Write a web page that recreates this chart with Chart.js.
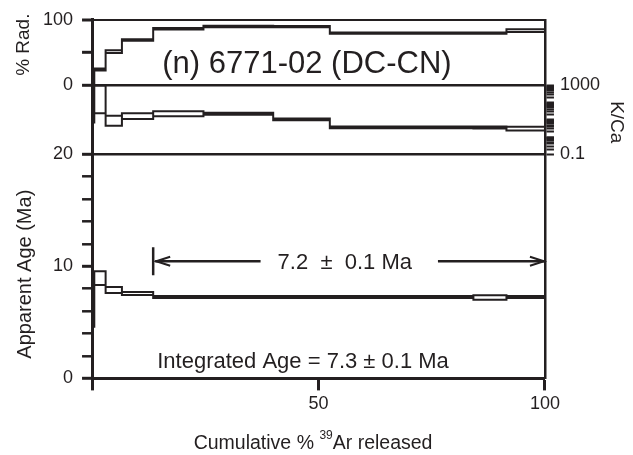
<!DOCTYPE html>
<html>
<head>
<meta charset="utf-8">
<title>6771-02 age spectrum</title>
<script src="https://cdn.jsdelivr.net/npm/chart.js@4"></script>
<style>
    html, body { margin: 0; padding: 0; background: #fff; }
    #spectrum { display: block; }
</style>
</head>
<body>
<canvas id="spectrum" width="633" height="455"></canvas>
<script>
// --- DATA ---
const sampleLabel = '(n) 6771-02 (DC-CN)';
// step boundaries, cumulative % 39Ar
const cumulative39Ar = [0, 0.5, 3.0, 6.6, 13.5, 24.6, 40.0, 52.5, 84.2, 91.5, 100];
// apparent age (Ma) and 2 sigma
const apparentAge = [6.91, 8.95, 7.89, 7.58, 7.27, 7.27, 7.27, 7.27, 7.22, 7.27];
const ageErr      = [2.3, 0.62, 0.27, 0.13, 0.09, 0.09, 0.09, 0.09, 0.2, 0.09];
// % radiogenic
const radiogenic = [2, 24.2, 51.5, 69.2, 86.4, 89.8, 89.6, 79.8, 79.8, 83.5];
const radErr     = [1, 1.5, 2, 1.2, 1.2, 1, 1, 1, 1, 2];
// K/Ca and 2 sigma
const kca    = [600, 500, 11, 17.5, 23.4, 23, 10.7, 3.7, 3.6, 3.2];
const kcaErr = [593, 476, 6.5, 6.4, 7.5, 3, 1.4, 0.45, 0.45, 0.8];

const plateauStart = 13.5;
const plateauEnd = 100;
const plateauText = '7.2  \u00b1  0.1 Ma';
const integratedText = 'Integrated Age = 7.3 \u00b1 0.1 Ma';

const xTicks = [0, 50, 100];
const ageTicks = [0, 2, 4, 6, 8, 10, 12, 14, 16, 18, 20];
const radTicks = [0, 50, 100];
const kcaTicks = [0.1, 0.2, 0.3, 0.4, 0.5, 0.6, 0.7, 0.8, 0.9,
                  1, 2, 3, 4, 5, 6, 7, 8, 9,
                  10, 20, 30, 40, 50, 60, 70, 80, 90,
                  100, 200, 300, 400, 500, 600, 700, 800, 900, 1000];

// --- PANEL GEOMETRY (in age-axis units) ---
const ink = '#231f20';
const family = '"Liberation Sans", Arial, Helvetica, sans-serif';
const AGE_TOP = 32;        // top of frame on the age axis
const RAD_BASE = 26.15;    // where 0 % Rad. / 1000 K/Ca sits
const RAD_MIN = -RAD_BASE / (AGE_TOP - RAD_BASE) * 100;
const DEC = 4 / (RAD_BASE - 20);          // K/Ca decades per age unit
const KCA_MIN = Math.pow(10, -1 - 20 * DEC);
const KCA_MAX = Math.pow(10, -1 + (AGE_TOP - 20) * DEC);

const radToAge = r => RAD_BASE + r / 100 * (AGE_TOP - RAD_BASE);
const near = (a, b) => Math.abs(a - b) < 1e-6;

// box outlines for a step spectrum: tops, bottoms and the verticals between steps
function stepOutline(lo, hi) {
    const pts = [];
    const n = lo.length;
    for (let i = 0; i < n; i++) {
        const x0 = cumulative39Ar[i], x1 = cumulative39Ar[i + 1];
        pts.push({ x: x0, y: hi[i] }, { x: x1, y: hi[i] }, { x: x1, y: null });
        pts.push({ x: x0, y: lo[i] }, { x: x1, y: lo[i] }, { x: x1, y: null });
    }
    for (let j = 0; j <= n; j++) {
        const a = Math.max(j - 1, 0), b = Math.min(j, n - 1);
        const x = cumulative39Ar[j];
        pts.push({ x: x, y: Math.min(lo[a], lo[b]) }, { x: x, y: Math.max(hi[a], hi[b]) }, { x: x, y: null });
    }
    return pts;
}

const ageLo = apparentAge.map((v, i) => v - ageErr[i]);
const ageHi = apparentAge.map((v, i) => v + ageErr[i]);
const radLo = radiogenic.map((v, i) => Math.max(v - radErr[i], 0));
const radHi = radiogenic.map((v, i) => Math.min(v + radErr[i], 100));
const kcaLo = kca.map((v, i) => Math.max(v - kcaErr[i], 0.1));
const kcaHi = kca.map((v, i) => Math.min(v + kcaErr[i], 1000));

const boxStyle = {
    type: 'scatter', showLine: true, spanGaps: false, fill: false,
    borderColor: ink, borderWidth: 2, borderCapStyle: 'square',
    pointRadius: 0, pointHoverRadius: 0
};

// --- ANNOTATIONS: titles, plateau arrow, labels ---
const annotate = {
    id: 'annotate',
    afterDraw(chart) {
        const { ctx, chartArea, scales } = chart;
        const x = scales.x, y = scales.y;
        ctx.save();
        ctx.fillStyle = ink;
        ctx.strokeStyle = ink;

        // sample name
        ctx.font = '31px ' + family;
        ctx.textAlign = 'left';
        ctx.textBaseline = 'alphabetic';
        ctx.fillText(sampleLabel, x.getPixelForValue(15.5), y.getPixelForValue(radToAge(19)));

        // plateau arrow
        const ay = y.getPixelForValue(10.45);
        const px0 = x.getPixelForValue(plateauStart);
        const px1 = x.getPixelForValue(plateauEnd);
        ctx.font = '22px ' + family;
        ctx.textAlign = 'center';
        const tx = x.getPixelForValue(55.8);
        const tw = ctx.measureText(plateauText).width;
        ctx.fillText(plateauText, tx, ay + 8);
        ctx.lineWidth = 2.5;
        ctx.lineCap = 'butt';
        ctx.beginPath();
        ctx.moveTo(px0, ay - 14); ctx.lineTo(px0, ay + 14);
        ctx.moveTo(px0 + 2, ay); ctx.lineTo(tx - tw / 2 - 17, ay);
        ctx.moveTo(tx + tw / 2 + 26, ay); ctx.lineTo(px1, ay);
        ctx.stroke();
        ctx.lineWidth = 2;
        ctx.beginPath();
        ctx.moveTo(px0 + 17, ay - 4.5); ctx.lineTo(px0 + 3, ay); ctx.lineTo(px0 + 17, ay + 4.5);
        ctx.moveTo(px1 - 15, ay - 4.5); ctx.lineTo(px1 - 1, ay); ctx.lineTo(px1 - 15, ay + 4.5);
        ctx.stroke();

        // integrated age
        ctx.textAlign = 'left';
        ctx.fillText(integratedText, x.getPixelForValue(14.4), y.getPixelForValue(0.9));

        // axis titles
        ctx.textAlign = 'center';
        ctx.textBaseline = 'middle';
        ctx.font = '19px ' + family;
        ctx.save();
        ctx.translate(chartArea.left - 68, y.getPixelForValue(radToAge(62)));
        ctx.rotate(-Math.PI / 2);
        ctx.fillText('% Rad.', 0, 0);
        ctx.restore();

        ctx.font = '20px ' + family;
        ctx.save();
        ctx.translate(chartArea.left - 67, y.getPixelForValue(9.3));
        ctx.rotate(-Math.PI / 2);
        ctx.fillText('Apparent Age (Ma)', 0, 0);
        ctx.restore();

        ctx.font = '19px ' + family;
        ctx.save();
        ctx.translate(chartArea.right + 71, scales.yKca.getPixelForValue(7.2));
        ctx.rotate(Math.PI / 2);
        ctx.fillText('K/Ca', 0, 0);
        ctx.restore();

        // x title with superscript 39
        ctx.textBaseline = 'alphabetic';
        ctx.textAlign = 'left';
        const bigFont = '19.5px ' + family, supFont = '12px ' + family;
        const partA = 'Cumulative % ', sup = '39', partB = 'Ar released';
        ctx.font = bigFont;
        const wA = ctx.measureText(partA).width, wB = ctx.measureText(partB).width;
        ctx.font = supFont;
        const wS = ctx.measureText(sup).width;
        let sx = x.getPixelForValue(48.8) - (wA + wS + wB) / 2;
        const base = chartArea.bottom + 71;
        ctx.font = bigFont;
        ctx.fillText(partA, sx, base);
        ctx.font = supFont;
        ctx.fillText(sup, sx + wA, base - 10);
        ctx.font = bigFont;
        ctx.fillText(partB, sx + wA + wS, base);
        ctx.restore();
    }
};

Chart.defaults.font.family = family;
Chart.defaults.color = ink;

new Chart(document.getElementById('spectrum'), {
    type: 'scatter',
    data: {
        datasets: [
            Object.assign({ label: 'Age', yAxisID: 'y', data: stepOutline(ageLo, ageHi) }, boxStyle),
            Object.assign({ label: '% Rad.', yAxisID: 'yRad', data: stepOutline(radLo, radHi) }, boxStyle),
            Object.assign({ label: 'K/Ca', yAxisID: 'yKca', data: stepOutline(kcaLo, kcaHi) }, boxStyle)
        ]
    },
    options: {
        responsive: false,
        animation: false,
        devicePixelRatio: 1,
        layout: { padding: { left: 34, right: 27, top: 15, bottom: 37 } },
        plugins: { legend: { display: false }, tooltip: { enabled: false } },
        scales: {
            x: {
                type: 'linear', min: 0, max: 100,
                afterBuildTicks: s => { s.ticks = xTicks.map(v => ({ value: v })); },
                ticks: {
                    callback: v => (v === 0 ? '' : String(v)),
                    font: { size: 18 }, color: ink, padding: 3, maxRotation: 0, autoSkip: false
                },
                grid: { drawOnChartArea: false, tickLength: 12, tickWidth: 3, tickColor: ink },
                border: { color: ink, width: 3 }
            },
            y: {
                type: 'linear', position: 'left', min: 0, max: AGE_TOP,
                afterBuildTicks: s => {
                    s.ticks = ageTicks.concat(radTicks.map(radToAge)).map(v => ({ value: v }));
                },
                ticks: {
                    callback: v => {
                        if (v === 0 || v === 10 || v === 20) return String(v);
                        if (near(v, radToAge(0))) return '0';
                        if (near(v, radToAge(100))) return '100';
                        return '';
                    },
                    font: { size: 18 }, color: ink, padding: 9, autoSkip: false
                },
                grid: {
                    color: c => (near(c.tick.value, 20) || near(c.tick.value, RAD_BASE) || near(c.tick.value, AGE_TOP)) ? ink : 'rgba(0,0,0,0)',
                    lineWidth: c => near(c.tick.value, AGE_TOP) ? 2 : 2.6,
                    tickLength: 10,
                    tickColor: ink,
                    tickWidth: c => (c.tick.value % 10 === 0 || c.tick.value > 20) ? 3 : 2.5
                },
                border: { color: ink, width: 3 }
            },
            yRad: {
                type: 'linear', display: false, min: RAD_MIN, max: 100
            },
            yKca: {
                type: 'logarithmic', position: 'right', min: KCA_MIN, max: KCA_MAX,
                afterBuildTicks: s => { s.ticks = kcaTicks.map(v => ({ value: v })); },
                ticks: {
                    callback: v => (v === 1000 ? '1000' : (near(v, 0.1) ? '0.1' : '')),
                    font: { size: 18 }, color: ink, padding: 6, autoSkip: false
                },
                grid: { drawOnChartArea: false, tickLength: 9, tickColor: ink, tickWidth: 2 },
                border: { color: ink, width: 2.5 }
            }
        }
    },
    plugins: [annotate]
});
</script>
</body>
</html>
